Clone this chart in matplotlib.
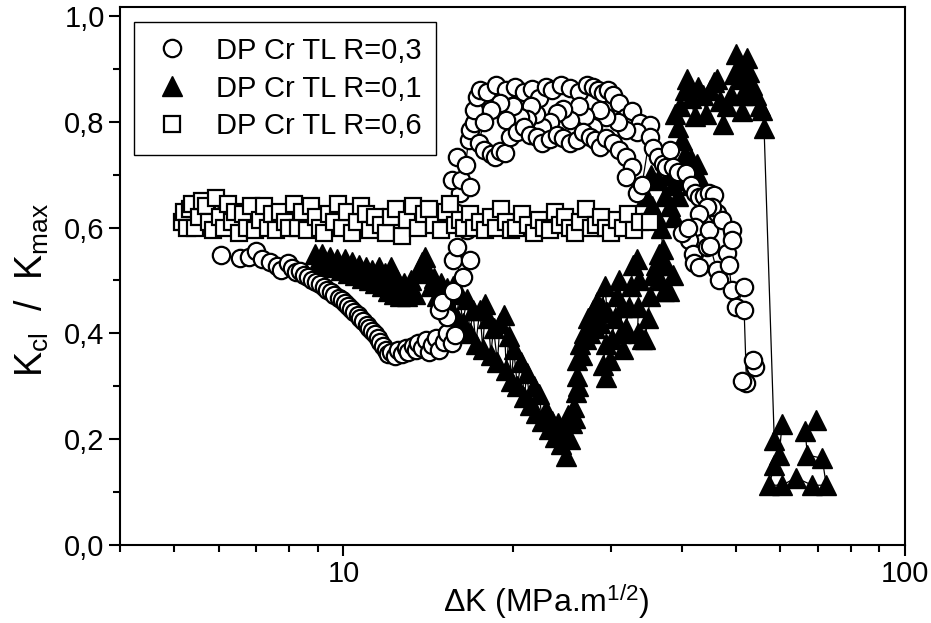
import numpy as np
import matplotlib.pyplot as plt
from matplotlib.ticker import FuncFormatter, MultipleLocator, LogLocator, NullFormatter
from matplotlib.lines import Line2D

plt.rcParams['font.family'] = ['Liberation Sans', 'DejaVu Sans']
plt.rcParams['mathtext.fontset'] = 'custom'
plt.rcParams['mathtext.rm'] = 'Liberation Sans'
plt.rcParams['mathtext.it'] = 'Liberation Sans'
plt.rcParams['mathtext.default'] = 'regular'

# DP Cr TL R=0,3 (open circles)
c_x = [6.05, 6.53, 6.8, 7.0, 7.15, 7.39, 7.6, 7.75, 7.95, 8.1,
       8.22, 8.36, 8.5, 8.65, 8.8, 8.95, 9.07, 9.25, 9.35, 9.5,
       9.6, 9.8, 9.95, 10.05, 10.2, 10.3, 10.45, 10.6, 10.7, 10.85,
       11.0, 11.1, 11.25, 11.4, 11.5, 11.6, 11.75, 11.9, 12.0, 12.15,
       12.35, 12.5, 12.7, 12.9, 13.05, 13.3, 13.45, 13.6, 13.8, 14.0,
       14.2, 14.4, 14.6, 14.8, 15.1, 15.3, 15.6, 15.8,
       15.3, 14.8, 15.0, 15.7, 16.3, 15.7, 16.8, 15.95, 16.6, 15.9,
       16.1, 15.6, 16.2, 16.8, 15.9, 16.5, 16.7, 16.8, 17.05, 17.05,
       17.3, 17.5,
       18.0, 18.7, 19.5, 20.2, 21.0, 21.7, 22.3, 22.9, 23.5, 24.4,
       25.3, 26.3, 27.1, 27.8, 28.4, 29.0, 29.6, 30.2, 31.0, 31.8,
       32.6, 33.7, 35.1,
       33.3, 31.8, 30.8, 29.3, 28.6, 27.8, 26.9, 26.3, 25.3, 24.6,
       24.0, 23.3, 22.6, 22.0, 21.6, 21.2, 20.6, 20.0, 19.5, 19.0,
       18.3, 17.8,
       17.4, 17.8, 18.3, 18.6, 19.0, 19.4, 19.8, 20.4, 21.0, 21.5,
       22.1, 22.6, 23.3, 24.0, 24.6, 25.3, 26.0, 26.7, 27.5, 28.0,
       28.6, 29.3, 30.2, 31.0, 31.8, 32.6, 31.8, 33.3, 34.0,
       35.1, 35.6, 36.3, 37.0, 37.6, 38.1, 38.6, 39.5, 40.7, 41.5,
       42.3, 43.0, 43.9, 44.8, 45.7, 46.3, 45.3, 44.4, 43.0, 42.3,
       41.3, 40.0, 41.0, 42.0, 42.1, 43.0, 44.4, 44.8, 45.0, 46.2,
       46.7, 48.1, 47.2, 49.1, 49.1, 48.6, 49.1, 51.7, 50.1, 51.7,
       52.2, 51.2, 54.1, 53.6]
c_y = [0.548, 0.543, 0.545, 0.556, 0.54, 0.535, 0.527, 0.52, 0.533, 0.524,
       0.516, 0.518, 0.51, 0.507, 0.501, 0.497, 0.493, 0.488, 0.482, 0.478,
       0.473, 0.467, 0.463, 0.457, 0.452, 0.446, 0.44, 0.435, 0.429, 0.423,
       0.416, 0.41, 0.405, 0.399, 0.391, 0.384, 0.376, 0.369, 0.361, 0.365,
       0.357, 0.369, 0.361, 0.372, 0.365, 0.376, 0.369, 0.382, 0.372, 0.388,
       0.365, 0.378, 0.391, 0.369, 0.384, 0.40, 0.382, 0.397,
       0.431, 0.444, 0.46, 0.48, 0.507, 0.539, 0.539, 0.563, 0.595, 0.628,
       0.665, 0.69, 0.69, 0.677, 0.733, 0.718, 0.766, 0.785, 0.798, 0.822,
       0.847, 0.86,
       0.856, 0.87, 0.86, 0.865, 0.856, 0.862, 0.845, 0.865, 0.86, 0.87,
       0.864, 0.856, 0.87, 0.866, 0.86, 0.854, 0.86, 0.85, 0.836, 0.809,
       0.82, 0.798, 0.794,
       0.78, 0.785, 0.80, 0.809, 0.822, 0.79, 0.81, 0.83, 0.803, 0.825,
       0.817, 0.80, 0.79, 0.815, 0.83, 0.805, 0.809, 0.83, 0.803, 0.836,
       0.822, 0.80,
       0.76, 0.747, 0.74, 0.733, 0.745, 0.741, 0.771, 0.78, 0.79, 0.775,
       0.771, 0.76, 0.768, 0.775, 0.769, 0.76, 0.766, 0.78, 0.771, 0.765,
       0.752, 0.77, 0.76, 0.747, 0.733, 0.715, 0.696, 0.665, 0.68,
       0.771, 0.75, 0.733, 0.72, 0.715, 0.747, 0.715, 0.705, 0.703, 0.68,
       0.665, 0.658, 0.66, 0.665, 0.662, 0.628, 0.639, 0.639, 0.625, 0.601,
       0.577, 0.59, 0.60, 0.55, 0.533, 0.526, 0.563, 0.595, 0.565, 0.52,
       0.501, 0.552, 0.614, 0.595, 0.577, 0.53, 0.482, 0.488, 0.45, 0.444,
       0.306, 0.31, 0.337, 0.35]

# DP Cr TL R=0,1 (filled triangles)
t_x = [8.9, 9.0, 9.15, 9.3, 9.45, 9.6, 9.75, 9.9, 10.05, 10.2,
       10.35, 10.5, 10.65, 10.8, 10.95, 11.1, 11.25, 11.4, 11.55, 11.7,
       11.85, 12.0, 12.15, 12.3, 12.45, 12.6, 12.8, 13.0, 13.2, 13.4,
       13.6, 13.8, 13.95, 14.1, 14.3, 14.5, 14.7, 14.9, 15.1, 15.3,
       15.5, 15.7, 15.9, 16.1, 16.3, 16.6, 16.8, 17.0, 17.2, 17.5,
       17.7, 17.9, 18.1, 18.3, 18.5, 18.8, 19.0, 19.3, 19.5, 19.7,
       19.9, 20.1, 20.4, 20.7, 21.0, 21.2, 21.5, 21.8, 22.0, 22.3,
       22.6, 22.9, 23.2, 23.5, 23.8, 24.1, 24.4, 24.7, 24.9, 25.1,
       25.3, 25.5,
       25.7, 25.9, 25.8, 26.0, 26.1, 26.2, 26.4, 26.6, 26.8, 27.0,
       27.3, 27.5, 27.8, 28.0, 28.3, 28.6, 28.9, 29.2, 29.5, 29.3,
       29.0, 29.4, 29.8, 30.1, 30.4, 30.7, 31.0, 31.3, 31.2, 31.5,
       31.9, 32.2, 32.5, 32.8, 33.3, 33.6, 33.5, 33.4, 34.0, 34.5,
       34.8, 35.2, 35.6, 36.0, 36.4, 36.6, 37.2, 38.0, 38.6, 37.6,
       37.0, 36.8,
       36.2, 35.4, 34.6, 35.3, 36.3, 37.3, 38.2, 38.8, 39.4, 38.6,
       37.8, 39.8, 40.6, 41.6, 42.4, 43.0, 42.6, 41.6, 40.6, 40.0,
       39.4, 39.0,
       39.8, 40.5, 40.9, 41.5, 42.2, 42.8, 43.6, 44.3, 45.0, 45.6,
       46.3, 46.9, 47.4, 48.2, 49.0, 49.6, 50.0, 50.6, 51.0, 51.5,
       51.2, 52.0, 52.3, 52.8, 53.4, 54.3, 55.2, 55.7, 56.1,
       58.5, 60.4, 59.7, 58.5, 57.3, 60.4, 63.9, 68.4, 72.4, 71.2,
       67.0, 66.4, 69.5]
t_y = [0.55, 0.535, 0.55, 0.53, 0.545, 0.525, 0.54, 0.52, 0.54, 0.515,
       0.535, 0.51, 0.53, 0.505, 0.525, 0.50, 0.52, 0.495, 0.525, 0.49,
       0.515, 0.48, 0.525, 0.475, 0.50, 0.47, 0.495, 0.47, 0.50, 0.475,
       0.515, 0.535, 0.545, 0.52, 0.49, 0.505, 0.47, 0.495, 0.46, 0.485,
       0.45, 0.49, 0.43, 0.475, 0.42, 0.465, 0.40, 0.445, 0.38, 0.445,
       0.37, 0.455, 0.43, 0.36, 0.41, 0.345, 0.42, 0.435, 0.33, 0.395,
       0.31, 0.37, 0.30, 0.345, 0.28, 0.325, 0.265, 0.30, 0.25, 0.285,
       0.235, 0.255, 0.22, 0.235, 0.205, 0.23, 0.19, 0.215, 0.168, 0.245,
       0.20, 0.23,
       0.26, 0.29, 0.24, 0.32, 0.35, 0.30, 0.38, 0.36, 0.40, 0.39,
       0.43, 0.40, 0.445, 0.41, 0.46, 0.42, 0.45, 0.49, 0.44, 0.38,
       0.34, 0.317, 0.35, 0.39, 0.43, 0.47, 0.50, 0.45, 0.40, 0.37,
       0.41, 0.45, 0.49, 0.53, 0.54, 0.50, 0.45, 0.40, 0.39, 0.39,
       0.43, 0.47, 0.51, 0.53, 0.55, 0.50, 0.48, 0.48, 0.51, 0.53,
       0.56, 0.60,
       0.62, 0.64, 0.66, 0.70, 0.69, 0.66, 0.64, 0.62, 0.66, 0.68,
       0.70, 0.70, 0.69, 0.68, 0.70, 0.695, 0.72, 0.73, 0.74, 0.765,
       0.79, 0.815,
       0.83, 0.86, 0.88, 0.845, 0.81, 0.865, 0.85, 0.815, 0.86, 0.875,
       0.88, 0.84, 0.795, 0.83, 0.85, 0.89, 0.928, 0.905, 0.88, 0.85,
       0.82, 0.865, 0.92, 0.895, 0.87, 0.85, 0.83, 0.822, 0.788,
       0.198, 0.229, 0.17, 0.151, 0.113, 0.113, 0.127, 0.113, 0.113, 0.164,
       0.17, 0.216, 0.236]

# DP Cr TL R=0,6 (open squares)
s_x = [5.15, 5.20, 5.26, 5.32, 5.38, 5.45, 5.52, 5.60, 5.68, 5.76,
       5.85, 5.94, 6.03, 6.12, 6.22, 6.32, 6.42, 6.52, 6.63, 6.74,
       6.85, 6.97, 7.09, 7.21, 7.33, 7.46, 7.59, 7.72, 7.86, 8.00,
       8.15, 8.30, 8.45, 8.60, 8.76, 8.92, 9.08, 9.25, 9.42, 9.60,
       9.78, 9.96, 10.15, 10.35, 10.55, 10.75, 10.95, 11.15, 11.4, 11.65,
       11.9, 12.15, 12.4, 12.7, 13.0, 13.3, 13.6, 13.9, 14.2, 14.5,
       14.9, 15.2, 15.5, 15.8, 16.1, 16.4, 16.8, 17.1, 17.5, 17.9,
       18.3, 18.7, 19.1, 19.5, 19.9, 20.3, 20.8, 21.3, 21.8, 22.3,
       22.8, 23.3, 23.8, 24.3, 24.8, 25.3, 25.8, 26.4, 27.0, 27.6,
       28.2, 28.8, 29.4, 30.0, 30.7, 31.4, 32.1, 32.9, 33.8, 35.2]
s_y = [0.61, 0.63, 0.60, 0.635, 0.645, 0.60, 0.62, 0.65, 0.64, 0.61,
       0.595, 0.655, 0.62, 0.60, 0.645, 0.61, 0.63, 0.59, 0.625, 0.60,
       0.64, 0.595, 0.615, 0.64, 0.60, 0.625, 0.595, 0.63, 0.61, 0.60,
       0.645, 0.60, 0.63, 0.595, 0.64, 0.62, 0.60, 0.59, 0.625, 0.61,
       0.645, 0.60, 0.63, 0.59, 0.61, 0.64, 0.625, 0.595, 0.62, 0.605,
       0.59, 0.62, 0.635, 0.585, 0.615, 0.64, 0.60, 0.625, 0.635, 0.605,
       0.595, 0.63, 0.645, 0.605, 0.615, 0.60, 0.625, 0.60, 0.61, 0.595,
       0.62, 0.60, 0.635, 0.61, 0.595, 0.60, 0.625, 0.605, 0.59, 0.615,
       0.60, 0.595, 0.63, 0.605, 0.62, 0.60, 0.59, 0.61, 0.635, 0.60,
       0.605, 0.62, 0.60, 0.59, 0.615, 0.60, 0.625, 0.595, 0.61, 0.61]

labels = ['DP Cr TL R=0,3', 'DP Cr TL R=0,1', 'DP Cr TL R=0,6']

fig = plt.figure(figsize=(9.31, 6.23), dpi=100)
ax = fig.add_axes([0.1289, 0.1252, 0.8432, 0.8636])

ms_c, ms_t, ms_s = 12.5, 14, 12
ax.plot(t_x, t_y, color='k', lw=0.9, marker='^', ms=ms_t, mfc='k', mec='k', mew=1, zorder=2)
ax.plot(c_x, c_y, color='k', lw=0.9, marker='o', ms=ms_c, mfc='w', mec='k', mew=1.6, zorder=3)
ax.plot(s_x, s_y, color='k', lw=0.9, marker='s', ms=ms_s, mfc='w', mec='k', mew=1.6, zorder=4)

ax.set_xscale('log')
ax.set_xlim(4, 100)
ax.set_ylim(0, 1.017)
ax.set_xticks([10, 100])
ax.set_xticklabels(['10', '100'])
ax.xaxis.set_minor_locator(LogLocator(base=10, subs=np.arange(2, 10)))
ax.xaxis.set_minor_formatter(NullFormatter())
ax.yaxis.set_major_locator(MultipleLocator(0.2))
ax.yaxis.set_minor_locator(MultipleLocator(0.1))
ax.yaxis.set_major_formatter(FuncFormatter(lambda v, p: f'{v:.1f}'.replace('.', ',')))

ax.tick_params(which='both', direction='out', width=1.5, top=False, right=False, labelsize=21)
ax.tick_params(which='major', length=8, pad=3)
ax.tick_params(which='minor', length=5)
for sp in ax.spines.values():
    sp.set_linewidth(1.5)

ax.set_xlabel(r'$\Delta$K (MPa.m$^{1/2}$)', fontsize=23)
ax.xaxis.set_label_coords(0.543, -0.068)
ax.set_ylabel(r'K$_{cl}$  /  K$_{max}$', fontsize=27)
ax.yaxis.set_label_coords(-0.088, 0.474)

handles = [
    Line2D([], [], ls='none', marker='o', ms=ms_c, mfc='w', mec='k', mew=1.6),
    Line2D([], [], ls='none', marker='^', ms=ms_t, mfc='k', mec='k'),
    Line2D([], [], ls='none', marker='s', ms=ms_s, mfc='w', mec='k', mew=1.6),
]
leg = ax.legend(handles, labels, loc='upper left', bbox_to_anchor=(0.018, 0.972),
                borderaxespad=0, fontsize=21, fancybox=False, edgecolor='k',
                framealpha=1, handlelength=1.6, handletextpad=0.7,
                labelspacing=0.34, borderpad=0.5)
leg.get_frame().set_linewidth(1)

fig.savefig('out.png', dpi=100)
